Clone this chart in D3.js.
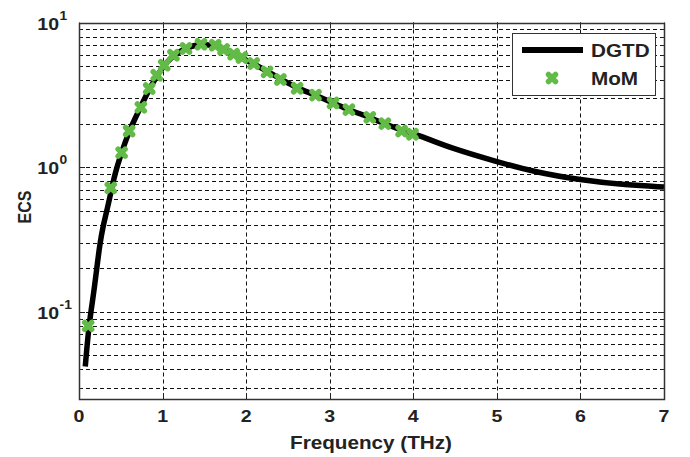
<!DOCTYPE html>
<html>
<head>
<meta charset="utf-8">
<script src="https://cdn.jsdelivr.net/npm/d3@7"></script>
<style>
  body { margin: 0; background: #fff; }
  text { font-family: "Liberation Sans", Arial, sans-serif; font-weight: bold; fill: #222; }
</style>
</head>
<body>
<div id="chart"></div>
<script>
// DGTD curve
const dgtdFreq = [0.075, 0.12, 0.17, 0.21, 0.25, 0.29, 0.33, 0.37, 0.43, 0.5, 0.6, 0.7, 0.8, 0.9, 1.0, 1.1, 1.2, 1.3, 1.4, 1.5, 1.6, 1.7, 1.8, 1.9, 2.0, 2.2, 2.4, 2.6, 2.8, 3.0, 3.2, 3.4, 3.6, 3.8, 4.0, 4.08, 4.44, 5.0, 5.44, 6.0, 6.55, 7.0];
const dgtdEcs  = [0.042, 0.083, 0.127, 0.194, 0.297, 0.397, 0.491, 0.623, 0.905, 1.22, 1.78, 2.35, 3.1, 4.0, 4.9, 5.7, 6.3, 6.7, 7.0, 7.05, 6.95, 6.65, 6.25, 5.9, 5.5, 4.8, 4.1, 3.55, 3.2, 2.85, 2.52, 2.3, 2.06, 1.85, 1.71, 1.65, 1.36, 1.09, 0.93, 0.815, 0.752, 0.73];

// MoM samples
const momFreq = [0.11, 0.38, 0.51, 0.60, 0.74, 0.84, 0.93, 1.02, 1.13, 1.28, 1.46, 1.63, 1.73, 1.85, 1.95, 2.09, 2.25, 2.41, 2.61, 2.83, 3.04, 3.23, 3.48, 3.66, 3.86, 3.99];
const momEcs  = [0.080, 0.72, 1.26, 1.78, 2.59, 3.50, 4.32, 5.07, 5.94, 6.61, 7.08, 6.97, 6.51, 6.04, 5.73, 5.21, 4.56, 4.04, 3.51, 3.15, 2.78, 2.50, 2.21, 2.00, 1.78, 1.69];

const xTicks = [0, 1, 2, 3, 4, 5, 6, 7];
const yMajor = [0.1, 1, 10];
const yExp = ["-1", "0", "1"];

document.addEventListener('DOMContentLoaded', function() {
    const W = 690, H = 457;
    const left = 79, right = 664, top = 22.5, bottom = 399;
    const green = '#63bb47';
    const stretch = 1.15; // text in the picture is a bit wide

    const svg = d3.select('#chart').append('svg')
        .attr('width', W)
        .attr('height', H);

    const x = d3.scaleLinear().domain([0, 7]).range([left, right]);
    const y = d3.scaleLog().domain([0.025, 10]).range([bottom, top]);

    // minor + major log grid values inside the domain
    const yGrid = [];
    [0.01, 0.1, 1].forEach(dec => {
        for (let k = 1; k <= 9; k++) {
            const v = +(dec * k).toPrecision(3);
            if (v >= 0.025 && v <= 10) yGrid.push(v);
        }
    });
    yGrid.push(10);

    const grid = svg.append('g')
        .attr('stroke', '#111')
        .attr('stroke-width', 1)
        .attr('stroke-dasharray', '4,3');

    grid.selectAll('.hg').data(yGrid.filter(v => v < 10))
        .enter().append('line')
        .attr('x1', left).attr('x2', right)
        .attr('y1', d => Math.round(y(d)) + 0.5)
        .attr('y2', d => Math.round(y(d)) + 0.5);

    grid.selectAll('.vg').data(xTicks.slice(1, -1))
        .enter().append('line')
        .attr('y1', top).attr('y2', bottom)
        .attr('x1', d => Math.round(x(d)) + 0.5)
        .attr('x2', d => Math.round(x(d)) + 0.5);

    // inner tick marks on all four sides
    const ticks = svg.append('g').attr('stroke', '#222').attr('stroke-width', 1);
    xTicks.forEach(t => {
        const px = Math.round(x(t)) + 0.5;
        ticks.append('line').attr('x1', px).attr('x2', px).attr('y1', bottom).attr('y2', bottom - 6);
        ticks.append('line').attr('x1', px).attr('x2', px).attr('y1', top).attr('y2', top + 6);
    });
    yGrid.forEach(v => {
        const py = Math.round(y(v)) + 0.5;
        const len = yMajor.includes(v) ? 6 : 3;
        ticks.append('line').attr('x1', left).attr('x2', left + len).attr('y1', py).attr('y2', py);
        ticks.append('line').attr('x1', right).attr('x2', right - len).attr('y1', py).attr('y2', py);
    });

    // DGTD line (basis curve irons out reading noise)
    const dgtd = dgtdFreq.map((f, i) => [f, dgtdEcs[i]]);
    const line = d3.line()
        .x(d => x(d[0]))
        .y(d => y(d[1]))
        .curve(d3.curveBasis);

    svg.append('path')
        .datum(dgtd)
        .attr('d', line)
        .attr('fill', 'none')
        .attr('stroke', '#000')
        .attr('stroke-width', 5.5);

    // MoM markers (fat x)
    function cross(g, cx, cy, r) {
        g.append('path')
            .attr('d', `M${cx - r},${cy - r}L${cx + r},${cy + r}M${cx - r},${cy + r}L${cx + r},${cy - r}`)
            .attr('stroke', green)
            .attr('stroke-width', 5.5)
            .attr('stroke-linecap', 'round')
            .attr('fill', 'none');
    }
    const marks = svg.append('g');
    momFreq.forEach((f, i) => cross(marks, x(f), y(momEcs[i]), 3.5));

    // plot frame
    svg.append('rect')
        .attr('x', left + 0.5).attr('y', Math.round(top) + 0.5)
        .attr('width', right - left).attr('height', bottom - Math.round(top))
        .attr('fill', 'none')
        .attr('stroke', '#333')
        .attr('stroke-width', 1.5);

    // x tick labels
    xTicks.forEach(t => {
        svg.append('text')
            .attr('transform', `translate(${x(t)},422) scale(${stretch},1)`)
            .attr('text-anchor', 'middle')
            .style('font-size', '17px')
            .text(t);
    });

    // y tick labels 10^n
    yMajor.forEach((v, i) => {
        const g = svg.append('g')
            .attr('transform', `translate(59,${y(v) + 7}) scale(${stretch},1)`);
        g.append('text')
            .attr('text-anchor', 'end')
            .style('font-size', '17px')
            .text('10');
        g.append('text')
            .attr('x', 0.5)
            .attr('y', -10)
            .style('font-size', '12px')
            .text(yExp[i]);
    });

    // axis titles
    svg.append('text')
        .attr('transform', `translate(371,449) scale(${stretch},1)`)
        .attr('text-anchor', 'middle')
        .style('font-size', '18px')
        .text('Frequency (THz)');

    svg.append('text')
        .attr('transform', `translate(31,207) scale(${stretch},1) rotate(-90)`)
        .attr('text-anchor', 'middle')
        .style('font-size', '16px')
        .text('ECS');

    // legend
    const lg = svg.append('g');
    lg.append('rect')
        .attr('x', 512.5).attr('y', 33.5)
        .attr('width', 143).attr('height', 62)
        .attr('fill', '#fff')
        .attr('stroke', '#333')
        .attr('stroke-width', 1);
    lg.append('line')
        .attr('x1', 522).attr('x2', 583)
        .attr('y1', 50).attr('y2', 50)
        .attr('stroke', '#000')
        .attr('stroke-width', 6);
    cross(lg, 552, 78, 3.5);
    lg.append('text')
        .attr('transform', `translate(591,57) scale(${stretch},1)`)
        .style('font-size', '18px')
        .text('DGTD');
    lg.append('text')
        .attr('transform', `translate(591,85) scale(${stretch},1)`)
        .style('font-size', '18px')
        .text('MoM');
});
</script>
</body>
</html>
